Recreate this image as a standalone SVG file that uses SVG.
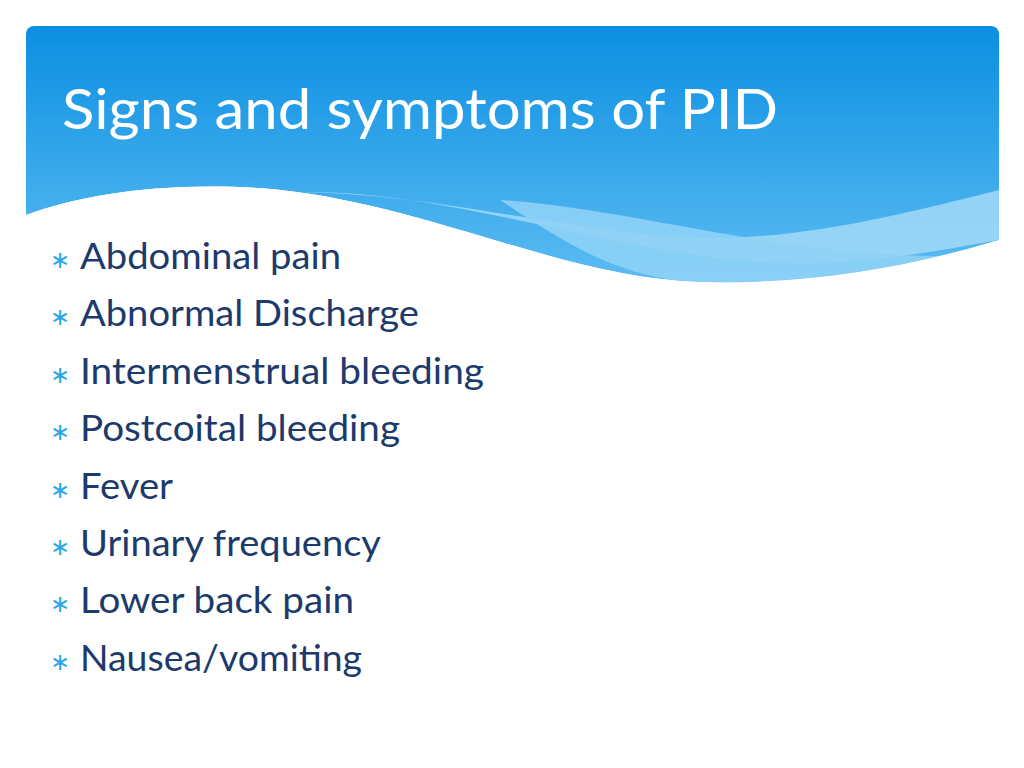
<svg xmlns="http://www.w3.org/2000/svg" width="1024" height="768" viewBox="0 0 1024 768">
<defs>
<linearGradient id="hg" x1="0" y1="0" x2="0" y2="1">
<stop offset="0" stop-color="#0b8fe2"/><stop offset="1" stop-color="#5cbcf2"/>
</linearGradient>
<clipPath id="hc"><rect x="26" y="26" width="973" height="260" rx="8"/></clipPath>
<style>
.t{font-family:Lato,"Open Sans",sans-serif;font-size:36px;fill:#1c3a6b}
.b{font-family:"DejaVu Sans",sans-serif;font-size:24px;fill:#2aa5e6}
</style>
</defs>
<rect width="1024" height="768" fill="#fff"/>
<g id="header" clip-path="url(#hc)">
<path d="M26 26H999V240C900 270 800 285 700 282C560 278 420 200 260 188C160 182 80 195 26 215Z" fill="url(#hg)"/>
<path d="M300 192C450 190 600 250 760 262C860 268 940 250 999 240V190C900 215 800 240 700 238C560 232 450 195 300 192Z" fill="#a8dcf8" opacity="0.8"/>
<path d="M500 200C650 210 800 265 999 255V240C900 270 800 285 700 282C620 280 560 240 500 200Z" fill="#8ed1f6" opacity="0.9"/>
<path d="M26 215C80 195 160 182 260 188C420 200 560 278 700 282C800 285 900 270 999 240V290H26Z" fill="#fff"/>
</g>
<text id="title" x="62" y="129" font-family="Lato,'Open Sans',sans-serif" font-size="56" fill="#fff" textLength="716" lengthAdjust="spacingAndGlyphs">Signs and symptoms of PID</text>
<g id="bullets">
<text class="b" x="50" y="268">∗</text><text class="t" x="80" y="269" textLength="261" lengthAdjust="spacingAndGlyphs">Abdominal pain</text>
<text class="b" x="50" y="325">∗</text><text class="t" x="80" y="326" textLength="339" lengthAdjust="spacingAndGlyphs">Abnormal Discharge</text>
<text class="b" x="50" y="383">∗</text><text class="t" x="80" y="384" textLength="404" lengthAdjust="spacingAndGlyphs">Intermenstrual bleeding</text>
<text class="b" x="50" y="440">∗</text><text class="t" x="80" y="441" textLength="320" lengthAdjust="spacingAndGlyphs">Postcoital bleeding</text>
<text class="b" x="50" y="498">∗</text><text class="t" x="80" y="499" textLength="93" lengthAdjust="spacingAndGlyphs">Fever</text>
<text class="b" x="50" y="555">∗</text><text class="t" x="80" y="556" textLength="301" lengthAdjust="spacingAndGlyphs">Urinary frequency</text>
<text class="b" x="50" y="612">∗</text><text class="t" x="80" y="613" textLength="274" lengthAdjust="spacingAndGlyphs">Lower back pain</text>
<text class="b" x="50" y="670">∗</text><text class="t" x="80" y="671" textLength="282" lengthAdjust="spacingAndGlyphs">Nausea/vomiting</text>
</g>
</svg>
